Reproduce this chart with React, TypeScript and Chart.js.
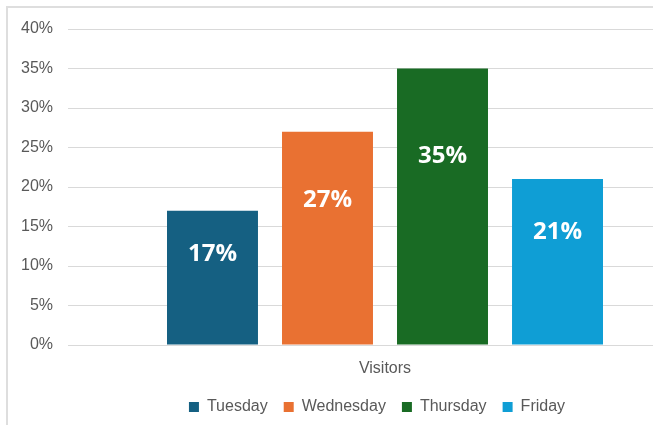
import React, { useEffect, useRef } from "react";
import { Chart, registerables } from "chart.js";

Chart.register(...registerables);

const categories = ["Visitors"];
const seriesNames = ["Tuesday", "Wednesday", "Thursday", "Friday"];
const seriesValues = [[17], [27], [35], [21]];
const seriesColors = ["#156082", "#E97132", "#196B24", "#0F9ED5"];
const yTicks = [0, 5, 10, 15, 20, 25, 30, 35, 40];

const labelPlugin = {
  id: "barLabels",
  afterLayout(chart: any) {
    if (chart.legend) {
      chart.legend.left -= 8;
      chart.legend.right -= 8;
    }
  },
  afterDatasetsDraw(chart: any) {
    const ctx = chart.ctx;
    ctx.save();
    ctx.fillStyle = "#FFFFFF";
    ctx.font = "bold 24px 'Open Sans'";
    ctx.textAlign = "center";
    ctx.textBaseline = "middle";
    chart.data.datasets.forEach((ds: any, i: number) => {
      const meta = chart.getDatasetMeta(i);
      meta.data.forEach((bar: any, j: number) => {
        const v = ds.data[j];
        const y = bar.base - 0.685 * (bar.base - bar.y);
        ctx.fillText(v + "%", bar.x, y + 1);
      });
    });
    ctx.restore();
  },
};

export default function App() {
  const ref = useRef<HTMLCanvasElement>(null);
  useEffect(() => {
    if (!ref.current) return;
    const font = { family: "'Liberation Sans', Arial, sans-serif", size: 16 };
    const chart = new Chart(ref.current, {
      type: "bar",
      data: {
        labels: categories,
        datasets: seriesNames.map((n, i) => ({
          label: n,
          data: seriesValues[i],
          backgroundColor: seriesColors[i],
          borderWidth: 0,
          categoryPercentage: 0.7256,
          barPercentage: 0.791,
        })),
      },
      options: {
        animation: false,
        responsive: false,
        layout: { padding: { left: 10, right: 0, top: 29, bottom: 0 } },
        plugins: {
          legend: {
            position: "bottom",
            fullSize: false,
            labels: {
              boxWidth: 10,
              boxHeight: 10,
              padding: 16,
              color: "#595959",
              font,
            },
          },
          tooltip: { enabled: false },
        },
        scales: {
          x: {
            grid: { display: false, drawTicks: false },
            border: { display: false },
            ticks: { color: "#595959", font, padding: 14 },
            afterFit: (axis: any) => {
              axis.height = 38;
            },
          },
          y: {
            min: 0,
            max: 40,
            afterBuildTicks: (axis: any) => {
              axis.ticks = yTicks.map((v) => ({ value: v }));
            },
            grid: { color: "#D9D9D9", lineWidth: 1, drawTicks: false },
            border: { display: false },
            ticks: {
              color: "#595959",
              font,
              padding: 15,
              callback: (v: any) => v + "%",
            },
            afterFit: (axis: any) => {
              axis.width = 58;
            },
          },
        },
      },
      plugins: [labelPlugin],
    });
    return () => chart.destroy();
  }, []);
  return (
    <div
      style={{
        position: "fixed",
        left: 0,
        top: 0,
        width: 653,
        height: 425,
        overflow: "hidden",
        background: "#FFFFFF",
      }}
    >
      <div
        style={{
          position: "absolute",
          left: 6,
          top: 6,
          width: 700,
          height: 500,
          border: "2px solid #DEDEDE",
        }}
      />
      <canvas
        ref={ref}
        width={702}
        height={425}
        style={{ position: "absolute", left: 0, top: 0 }}
      />
    </div>
  );
}
